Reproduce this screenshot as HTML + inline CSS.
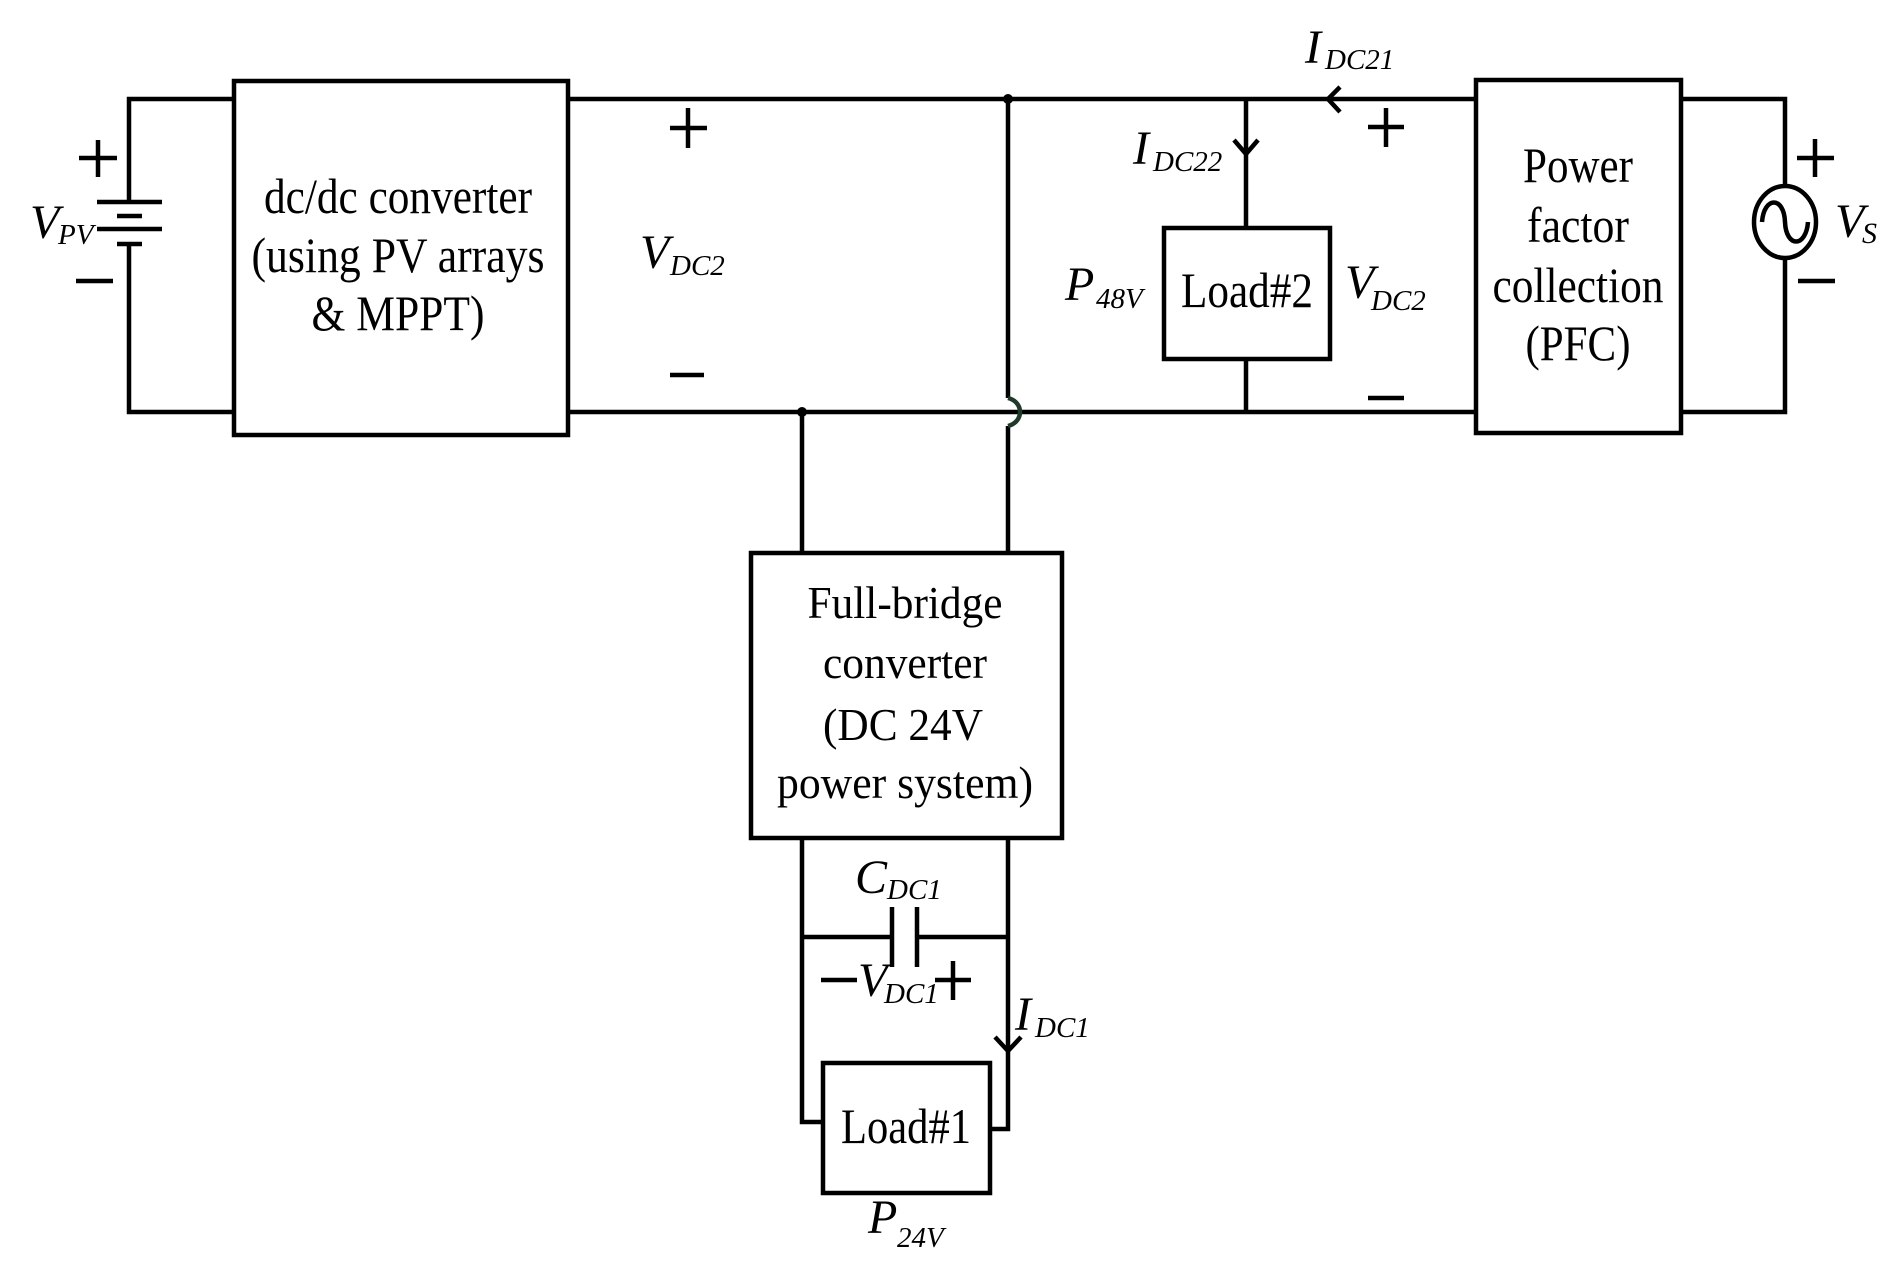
<!DOCTYPE html>
<html><head><meta charset="utf-8"><style>
html,body{margin:0;padding:0;background:#fff;}
svg{display:block;}
text{font-family:"Liberation Serif",serif;fill:#000;}
.i{font-style:italic;}
</style></head><body>
<svg width="1890" height="1271" viewBox="0 0 1890 1271" xmlns="http://www.w3.org/2000/svg">
<g fill="none" stroke="#000" stroke-width="4.5" stroke-linecap="butt">
<polyline points="234,99 129,99 129,202"/>
<polyline points="129,244 129,412 234,412"/>
<line x1="97" y1="202" x2="162" y2="202"/>
<line x1="117" y1="216" x2="142" y2="216"/>
<line x1="97" y1="229" x2="162" y2="229"/>
<line x1="117" y1="244" x2="142" y2="244"/>
<line x1="79" y1="158" x2="117" y2="158"/><line x1="98" y1="140" x2="98" y2="177"/>
<line x1="76" y1="281" x2="113" y2="281"/>
<rect x="234" y="81" width="334" height="354"/>
<line x1="568" y1="99" x2="1476" y2="99"/>
<line x1="568" y1="412" x2="1476" y2="412"/>
<line x1="670" y1="128" x2="707" y2="128"/><line x1="688" y1="108" x2="688" y2="148"/>
<line x1="670" y1="375" x2="704" y2="375"/>
<line x1="802" y1="412" x2="802" y2="554"/>
<line x1="1008" y1="99" x2="1008" y2="398"/>
<line x1="1008" y1="426" x2="1008" y2="554"/>
<rect x="751" y="553" width="311" height="285"/>
<polyline points="802,838 802,1122 822,1122"/>
<polyline points="1008,838 1008,1129 990,1129"/>
<line x1="802" y1="937" x2="892" y2="937"/>
<line x1="917" y1="937" x2="1008" y2="937"/>
<line x1="892" y1="907" x2="892" y2="967"/>
<line x1="917" y1="907" x2="917" y2="967"/>
<line x1="821" y1="980" x2="857" y2="980"/>
<line x1="935" y1="980" x2="971" y2="980"/><line x1="953" y1="961" x2="953" y2="1000"/>
<polyline points="995,1037 1008,1051 1021,1037"/>
<rect x="823" y="1063" width="167" height="130"/>
<line x1="1246" y1="99" x2="1246" y2="228"/>
<line x1="1246" y1="359" x2="1246" y2="412"/>
<rect x="1164" y="228" width="166" height="131"/>
<polyline points="1234,140 1246,154 1258,140"/>
<polyline points="1340,87 1328,99 1340,112"/>
<line x1="1368" y1="127" x2="1404" y2="127"/><line x1="1386" y1="108" x2="1386" y2="147"/>
<line x1="1368" y1="398" x2="1404" y2="398"/>
<rect x="1476" y="80" width="205" height="353"/>
<polyline points="1681,99 1785,99 1785,186"/>
<polyline points="1785,258 1785,412 1681,412"/>
<ellipse cx="1785" cy="222" rx="31" ry="36"/>
<path d="M1762,222 C1764,196 1784,196 1785,222 C1786,248 1806,248 1808,222"/>
<line x1="1797" y1="158" x2="1834" y2="158"/><line x1="1815" y1="139" x2="1815" y2="177"/>
<line x1="1798" y1="281" x2="1835" y2="281"/>
</g>
<path d="M1008,398 C1024,402 1024,422 1008,426" fill="none" stroke="#1f3a2a" stroke-width="4.5"/>
<circle cx="1008" cy="99" r="5" fill="#000"/>
<circle cx="802" cy="412" r="5" fill="#000"/>

<g font-size="50" text-anchor="middle">
<text x="398" y="213" textLength="268" lengthAdjust="spacingAndGlyphs">dc/dc converter</text>
<text x="398" y="272" textLength="293" lengthAdjust="spacingAndGlyphs">(using PV arrays</text>
<text x="398" y="330" textLength="173" lengthAdjust="spacingAndGlyphs">&amp; MPPT)</text>
<text x="1578" y="182" textLength="110" lengthAdjust="spacingAndGlyphs">Power</text>
<text x="1578" y="242" textLength="102" lengthAdjust="spacingAndGlyphs">factor</text>
<text x="1578" y="302" textLength="171" lengthAdjust="spacingAndGlyphs">collection</text>
<text x="1578" y="360" textLength="105" lengthAdjust="spacingAndGlyphs">(PFC)</text>
<text x="1247" y="307" textLength="132" lengthAdjust="spacingAndGlyphs">Load#2</text>
<text x="906" y="1143" textLength="130" lengthAdjust="spacingAndGlyphs">Load#1</text>
</g>
<g font-size="46" text-anchor="middle">
<text x="905" y="618" textLength="195" lengthAdjust="spacingAndGlyphs">Full-bridge</text>
<text x="905" y="678" textLength="164" lengthAdjust="spacingAndGlyphs">converter</text>
<text x="903" y="740" textLength="160" lengthAdjust="spacingAndGlyphs">(DC 24V</text>
<text x="905" y="798" textLength="256" lengthAdjust="spacingAndGlyphs">power system)</text>
</g>

<g class="i">
<text x="30" y="238" font-size="48">V</text><text x="58" y="244" font-size="29">PV</text>
<text x="640" y="268" font-size="48">V</text><text x="670" y="275" font-size="29">DC2</text>
<text x="1305" y="63" font-size="48">I</text><text x="1325" y="69" font-size="29">DC21</text>
<text x="1133" y="164" font-size="48">I</text><text x="1153" y="171" font-size="29">DC22</text>
<text x="1065" y="300" font-size="48">P</text><text x="1096" y="308" font-size="29">48V</text>
<text x="1345" y="298" font-size="48">V</text><text x="1371" y="310" font-size="29">DC2</text>
<text x="1835" y="237" font-size="48">V</text><text x="1862" y="243" font-size="30">S</text>
<text x="855" y="893" font-size="48">C</text><text x="887" y="899" font-size="29">DC1</text>
<text x="858" y="996" font-size="48">V</text><text x="884" y="1003" font-size="29">DC1</text>
<text x="1015" y="1030" font-size="48">I</text><text x="1035" y="1037" font-size="29">DC1</text>
<text x="868" y="1233" font-size="48">P</text><text x="897" y="1247" font-size="29">24V</text>
</g>
</svg>
</body></html>
